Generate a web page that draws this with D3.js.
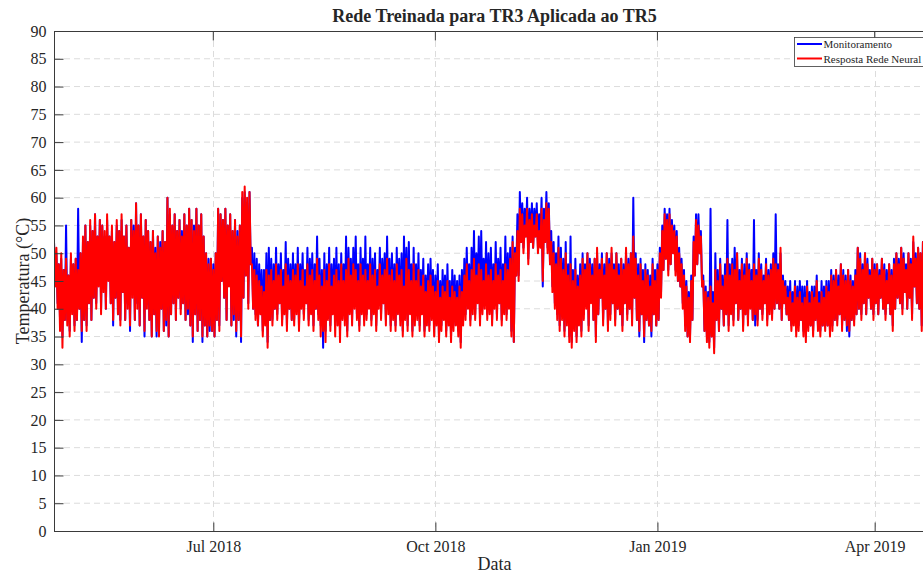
<!DOCTYPE html>
<html>
<head>
<meta charset="utf-8">
<script src="https://cdn.jsdelivr.net/npm/d3@7"></script>
<style>
  body { margin: 0; background: #fff; }
  svg { display: block; }
  text { font-family: "Liberation Serif", "Times New Roman", serif; fill: #262626; }
</style>
</head>
<body>
<svg id="chart" width="923" height="575"></svg>
<script>
// Period covered by the record (daily peak / trough readings)
const periodStart = "2018-04-26";
const periodEnd = "2019-04-26";

// Tick positions and labels
const yTickValues = [0, 5, 10, 15, 20, 25, 30, 35, 40, 45, 50, 55, 60, 65, 70, 75, 80, 85, 90];
const xTickDates = ["2018-07-01", "2018-10-01", "2019-01-01", "2019-04-01"];
const xTickLabels = ["Jul 2018", "Oct 2018", "Jan 2019", "Apr 2019"];

const seriesNames = ["Monitoramento", "Resposta Rede Neural"];

// Monitoramento: daily peak and trough (°C)
const monHi = [
  52,50,48,49,47,55,46,49,48,49, 58,50,52,55,52,55,54,57,53,56,
  55,53,56,53,54,52,55,54,56,53, 55,51,56,55,59,55,57,53,56,54,
  52,54,51,53,52,54,52,60,57,55, 57,54,56,54,57,55,58,56,55,58,
  55,57,53,50,49,49,48,50,58,57, 56,58,55,57,54,56,54,55,60,61,
  59,61,51,50,49,48,47,47,50,51, 49,48,51,48,50,47,52,49,48,50,
  48,51,48,50,47,51,49,50,48,53, 49,47,50,48,51,48,49,51,48,50,
  48,53,51,49,51,53,48,51,49,53, 48,51,49,50,47,51,49,50,53,49,
  50,48,51,49,50,53,51,52,48,51, 48,50,47,49,46,48,49,47,46,48,
  45,47,46,48,45,47,46,45,46,47, 49,51,48,51,54,50,53,54,49,52,
  50,51,48,52,49,51,48,53,50,51, 53,51,57,61,59,58,60,58,59,58,
  59,57,60,58,61,59,54,52,50,53, 51,49,52,48,53,47,49,46,48,50,
  48,50,49,48,49,50,48,50,48,50, 49,50,48,50,48,49,48,50,49,50,
  60,50,48,49,47,48,47,46,49,47, 48,51,55,58,57,58,56,55,54,51,
  49,47,45,43,46,53,57,57,54,46, 44,43,58,43,50,47,49,46,48,56,
  48,49,51,50,47,49,48,50,48,47, 56,47,50,48,46,49,47,48,50,57,
  48,50,46,45,44,45,43,45,44,45, 44,44,45,43,44,44,46,43,45,44,
  45,45,47,46,47,46,48,47,46,47, 46,45,47,51,50,48,50,49,47,49,
  48,48,47,49,48,47,48,47,49,50, 49,51,50,48,50,49,52,50,51,50,
  52,50,51,49,50
];
const monLo = [
  45,41,38,35,38,38,36,40,37,38, 40,34,38,37,41,38,42,41,45,40,
  44,40,46,41,37,42,39,38,43,38, 41,36,43,38,41,37,42,35,41,38,
  35,39,35,36,40,36,37,35,39,41, 38,42,40,41,38,39,37,34,39,36,
  38,34,37,35,36,36,35,38,37,45, 42,38,45,37,38,35,38,34,42,46,
  41,48,40,39,37,40,36,38,34,38, 38,40,39,41,38,40,37,40,38,38,
  40,37,41,39,41,38,40,37,40,39, 37,33,36,39,37,40,37,38,36,39,
  38,36,40,38,41,39,37,40,38,39, 41,38,40,37,41,39,41,38,40,37,
  39,37,40,38,36,39,37,40,36,38, 39,37,40,36,38,37,39,36,38,35,
  37,39,36,38,35,37,38,36,34,38, 39,41,38,40,39,42,38,40,41,39,
  40,38,41,39,41,38,40,39,41,36, 34,46,46,52,51,53,49,52,51,53,
  51,52,44,52,51,48,44,41,39,37, 39,36,38,35,34,37,35,38,36,39,
  41,37,42,38,35,39,42,38,40,37, 39,41,38,40,39,37,41,39,40,38,
  42,38,35,39,34,38,37,35,39,37, 38,43,47,49,47,48,50,47,45,44,
  41,37,35,35,38,46,48,50,44,36, 35,34,35,33,38,36,40,37,39,37,
  40,38,41,38,40,37,39,38,41,38, 37,38,40,39,41,38,40,39,40,41,
  40,38,41,39,38,37,38,36,37,38, 36,35,37,37,36,38,37,36,37,37,
  37,36,37,38,38,39,37,38,36,35, 38,38,39,40,39,41,39,42,40,39,
  41,39,42,40,39,41,39,37,40,42, 41,40,43,40,42,39,44,41,40,37,
  41,42,40,41,40
];

// Resposta Rede Neural: daily peak and trough (°C)
const redeHi = [
  52,51,48,50,47,49,46,50,48,49, 47,50,53,55,52,56,54,57,53,56,
  55,54,57,53,55,52,56,54,57,53, 55,51,56,54,59,55,57,53,56,54,
  52,54,50,53,51,54,52,60,58,55, 57,54,56,53,57,55,58,56,54,58,
  55,57,53,50,48,49,47,50,58,57, 56,58,55,57,54,56,53,55,61,62,
  60,61,48,47,46,45,44,43,47,46, 47,45,48,46,47,44,48,46,45,47,
  46,48,45,47,44,48,46,47,45,49, 46,44,47,45,48,44,46,47,45,48,
  45,47,49,46,48,47,45,48,46,47, 45,48,46,47,44,48,46,47,49,46,
  47,45,48,46,47,44,49,47,45,48, 45,47,44,46,43,45,46,44,43,45,
  42,44,43,45,42,44,43,42,44,43, 46,48,45,47,49,46,48,47,45,48,
  46,47,45,48,46,47,45,48,47,49, 52,50,54,58,57,55,58,56,57,55,
  57,54,58,56,59,58,52,50,48,51, 49,47,50,46,48,45,47,44,46,49,
  47,50,48,46,49,51,47,49,46,50, 48,51,47,50,46,49,47,51,48,50,
  53,49,46,48,45,47,46,44,48,45, 47,50,54,57,56,57,55,54,53,50,
  48,46,44,42,45,52,56,55,53,45, 43,42,44,41,47,45,48,44,46,49,
  46,48,47,50,45,48,46,49,47,45, 48,46,49,47,45,48,46,47,49,48,
  47,51,45,44,42,43,41,44,42,43, 41,42,44,41,43,42,45,41,43,42,
  44,43,46,45,47,44,48,46,45,47, 45,44,46,51,49,47,50,48,46,49,
  47,48,46,49,47,45,48,46,48,50, 48,51,49,47,50,48,53,49,51,50,
  52,49,51,48,50
];
const redeLo = [
  44,40,36,33,38,37,35,39,36,38, 40,36,38,36,41,38,42,40,44,39,
  43,40,45,41,38,42,39,37,43,38, 40,37,42,38,40,37,42,36,40,38,
  35,39,36,35,40,36,38,35,39,41, 38,42,39,41,38,40,37,35,39,36,
  38,35,37,35,37,36,35,38,36,45, 42,38,44,37,39,36,38,35,42,46,
  40,48,40,38,37,39,35,37,33,38, 37,40,38,41,37,39,36,40,38,37,
  39,36,40,38,41,37,39,36,40,38, 35,36,34,38,36,39,35,37,34,38,
  37,35,39,37,40,38,36,39,37,38, 40,37,39,36,40,38,41,37,39,36,
  38,36,39,37,35,38,36,39,35,37, 38,36,39,35,37,36,38,35,37,34,
  36,38,35,37,34,36,37,35,33,37, 38,40,37,39,38,41,37,39,40,38,
  39,37,40,38,41,37,39,38,40,35, 34,46,45,52,50,53,48,52,51,53,
  50,51,45,52,50,48,43,40,38,36, 38,35,37,34,33,36,34,37,35,38,
  40,36,41,38,34,39,42,37,40,36, 38,41,37,40,39,36,41,38,40,37,
  42,38,36,39,35,38,37,36,39,37, 38,42,47,49,46,48,50,46,45,44,
  40,36,35,34,38,46,48,50,44,36, 34,33,35,32,38,36,40,37,39,36,
  39,37,41,38,40,36,39,37,40,38, 39,37,40,38,41,37,39,38,40,41,
  40,38,41,39,38,36,37,35,36,38, 35,34,36,37,35,38,36,35,37,36,
  37,35,36,38,37,39,36,38,37,36, 38,37,39,40,38,41,39,42,40,38,
  41,39,42,40,38,41,39,36,40,42, 41,39,43,40,42,38,44,41,40,36,
  40,42,39,41,40
];

const svg = d3.select("#chart");
const margin = { left: 54, top: 31, right: 935, bottom: 531 };
const parse = d3.timeParse("%Y-%m-%d");
const t0 = parse(periodStart);

const x = d3.scaleTime()
  .domain([t0, parse(periodEnd)])
  .range([margin.left, margin.right]);
const y = d3.scaleLinear()
  .domain([0, 90])
  .range([margin.bottom, margin.top]);

// Each day contributes its peak reading followed by its trough reading
function toPoints(hi, lo) {
  const pts = [];
  hi.forEach((v, i) => {
    pts.push({ t: d3.timeHour.offset(t0, i * 24), v: v });
    pts.push({ t: d3.timeHour.offset(t0, i * 24 + 12), v: lo[i] });
  });
  return pts;
}
const monPts = toPoints(monHi, monLo);
const redePts = toPoints(redeHi, redeLo);

svg.append("defs").append("clipPath").attr("id", "plotClip")
  .append("rect")
  .attr("x", margin.left).attr("y", margin.top)
  .attr("width", margin.right - margin.left)
  .attr("height", margin.bottom - margin.top);

// Grid
const grid = svg.append("g").attr("class", "grid");
grid.selectAll("line.h").data(yTickValues.filter(v => v > 0 && v < 90)).join("line")
  .attr("x1", margin.left).attr("x2", margin.right)
  .attr("y1", d => y(d)).attr("y2", d => y(d))
  .attr("stroke", "#dcdcdc").attr("stroke-width", 1)
  .attr("stroke-dasharray", "6,4");
grid.selectAll("line.v").data(xTickDates).join("line")
  .attr("x1", d => Math.round(x(parse(d))) + 0.5).attr("x2", d => Math.round(x(parse(d))) + 0.5)
  .attr("y1", margin.top).attr("y2", margin.bottom)
  .attr("stroke", "#dcdcdc").attr("stroke-width", 1)
  .attr("stroke-dasharray", "6,4");

// Series
const line = d3.line().x(d => x(d.t)).y(d => y(d.v));
const plot = svg.append("g").attr("clip-path", "url(#plotClip)");
plot.append("path").datum(monPts)
  .attr("d", line).attr("fill", "none")
  .attr("stroke", "#0000ff").attr("stroke-width", 2)
  .attr("stroke-linejoin", "round");
plot.append("path").datum(redePts)
  .attr("d", line).attr("fill", "none")
  .attr("stroke", "#ff0000").attr("stroke-width", 2)
  .attr("stroke-linejoin", "round");

// Axes box
const axisColor = "#3a3a3a";
svg.append("rect")
  .attr("x", margin.left + 0.5).attr("y", margin.top + 0.5)
  .attr("width", margin.right - margin.left).attr("height", margin.bottom - margin.top)
  .attr("fill", "none").attr("stroke", axisColor).attr("stroke-width", 1);

// Y axis ticks (inward) and labels
const yAxis = d3.axisLeft(y).tickValues(yTickValues).tickSizeInner(-9).tickSizeOuter(0).tickPadding(8);
const gy = svg.append("g").attr("transform", `translate(${margin.left + 0.5},0)`).call(yAxis);
gy.select(".domain").remove();
gy.selectAll(".tick line").attr("stroke", axisColor);
gy.selectAll(".tick text")
  .attr("font-size", 16).attr("fill", "#262626")
  .style("font-family", "'Liberation Serif', serif");

// X axis ticks (inward, bottom and top) and labels
const xTickParsed = xTickDates.map(parse);
const xAxis = d3.axisBottom(x).tickValues(xTickParsed)
  .tickFormat((d, i) => xTickLabels[i]).tickSizeInner(-9).tickSizeOuter(0).tickPadding(9);
const gx = svg.append("g").attr("transform", `translate(0,${margin.bottom + 0.5})`).call(xAxis);
gx.select(".domain").remove();
gx.selectAll(".tick line").attr("stroke", axisColor);
gx.selectAll(".tick text")
  .attr("font-size", 16).attr("fill", "#262626")
  .style("font-family", "'Liberation Serif', serif");
svg.append("g").selectAll("line").data(xTickParsed).join("line")
  .attr("x1", d => x(d)).attr("x2", d => x(d))
  .attr("y1", margin.top + 0.5).attr("y2", margin.top + 9.5)
  .attr("stroke", axisColor);

// Title and axis labels
const cx = (margin.left + margin.right) / 2;
svg.append("text").attr("x", cx).attr("y", 22)
  .attr("text-anchor", "middle").attr("font-size", 18).attr("font-weight", "bold")
  .text("Rede Treinada para TR3 Aplicada ao TR5");
svg.append("text").attr("x", cx).attr("y", 570)
  .attr("text-anchor", "middle").attr("font-size", 18)
  .text("Data");
svg.append("text")
  .attr("transform", `translate(29,${(margin.top + margin.bottom) / 2}) rotate(-90)`)
  .attr("text-anchor", "middle").attr("font-size", 18)
  .text("Temperatura (°C)");

// Legend
const legend = svg.append("g");
legend.append("rect")
  .attr("x", 794.5).attr("y", 37.5).attr("width", 140).attr("height", 29)
  .attr("fill", "#fff").attr("stroke", axisColor).attr("stroke-width", 0.8);
const legendColors = ["#0000ff", "#ff0000"];
seriesNames.forEach((name, i) => {
  const ly = 44 + i * 14.5;
  legend.append("line")
    .attr("x1", 797).attr("x2", 822).attr("y1", ly).attr("y2", ly)
    .attr("stroke", legendColors[i]).attr("stroke-width", 2);
  legend.append("text").attr("x", 823.5).attr("y", ly + 4)
    .attr("font-size", 11).text(name);
});
</script>
</body>
</html>
